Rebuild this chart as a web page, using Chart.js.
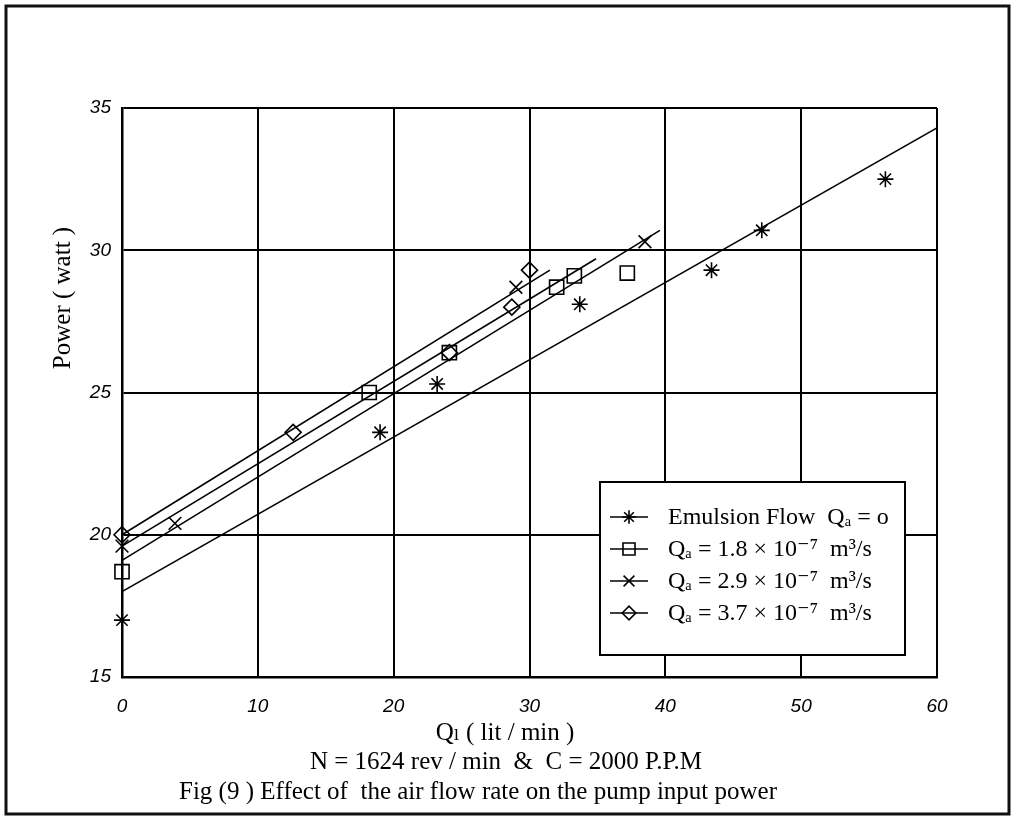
<!DOCTYPE html>
<html>
<head>
<meta charset="utf-8">
<title>Fig (9)</title>
<script src="https://cdn.jsdelivr.net/npm/chart.js@4"></script>
<style>
  html, body { margin: 0; padding: 0; background: #fff; }
  #wrap { width: 1016px; height: 820px; position: relative; }
</style>
</head>
<body>
<div id="wrap"><canvas id="powerChart" width="1016" height="820"></canvas></div>
<script>
// measured points, Q_l (lit/min) vs power (watt)
const emulsionQ = [0, 19.0, 23.2, 33.7, 43.4, 47.1, 56.2];
const emulsionP = [17.0, 23.6, 25.3, 28.1, 29.3, 30.7, 32.5];

const air18Q = [0, 18.2, 24.1, 32.0, 33.3, 37.2];
const air18P = [18.7, 25.0, 26.4, 28.7, 29.1, 29.2];

const air29Q = [0, 3.9, 29.0, 38.5];
const air29P = [19.6, 20.4, 28.7, 30.3];

const air37Q = [0, 12.6, 24.1, 28.7, 30.0];
const air37P = [20.0, 23.6, 26.4, 28.0, 29.3];

// fitted straight lines (end points)
const emulsionFitQ = [0, 60];
const emulsionFitP = [18.0, 34.3];
const air18FitQ = [0, 34.9];
const air18FitP = [19.6, 29.7];
const air29FitQ = [0, 39.6];
const air29FitP = [19.1, 30.7];
const air37FitQ = [0, 31.5];
const air37FitP = [20.0, 29.3];

const xTicks = [0, 10, 20, 30, 40, 50, 60];
const yTicks = [15, 20, 25, 30, 35];

const legendLabels = [
  "Emulsion Flow  Q\u2090 = o",
  "Q\u2090 = 1.8 \u00d7 10\u207b\u2077  m\u00b3/s",
  "Q\u2090 = 2.9 \u00d7 10\u207b\u2077  m\u00b3/s",
  "Q\u2090 = 3.7 \u00d7 10\u207b\u2077  m\u00b3/s",
];
const markerStyles = ["star", "rect", "crossRot", "rectRot"];
const markerSizes = [8, 10, 9, 8];

function pts(qs, ps) {
  return qs.map((q, i) => ({ x: q, y: ps[i] }));
}

function fitSet(qs, ps) {
  return {
    type: "line",
    data: pts(qs, ps),
    borderColor: "#000",
    borderWidth: 1.6,
    pointRadius: 0,
    fill: false,
  };
}

function markSet(label, qs, ps, k) {
  return {
    type: "scatter",
    label,
    data: pts(qs, ps),
    pointStyle: markerStyles[k],
    pointRadius: markerSizes[k],
    borderColor: "#000",
    backgroundColor: "rgba(0,0,0,0)",
    borderWidth: 1.6,
    clip: false,
  };
}

const serif = "'Liberation Serif', 'DejaVu Serif', serif";
const tickFont = { family: "'Liberation Sans', Arial, sans-serif", size: 19, style: "italic" };

/************ FRAME, CAPTIONS, LEGEND ************/
const extras = {
  id: "extras",
  afterDraw(chart) {
    const ctx = chart.ctx;
    ctx.save();

    // outer frame of the figure
    ctx.strokeStyle = "#111";
    ctx.lineWidth = 3;
    ctx.strokeRect(6, 6, 1003, 808);

    ctx.fillStyle = "#000";
    ctx.textAlign = "center";
    ctx.textBaseline = "middle";

    // y title
    ctx.save();
    ctx.translate(63, 298);
    ctx.rotate(-Math.PI / 2);
    ctx.font = "25px " + serif;
    ctx.fillText("Power ( watt )", 0, 0);
    ctx.restore();

    // x title + notes under the plot
    ctx.font = "25px " + serif;
    ctx.fillText("Q\u2097 ( lit / min )", 505, 733);
    ctx.fillText("N = 1624 rev / min  &  C = 2000 P.P.M", 506, 762);
    ctx.fillText("Fig (9 ) Effect of  the air flow rate on the pump input power", 478, 792);

    // legend box
    ctx.fillStyle = "#fff";
    ctx.fillRect(600, 482, 305, 173);
    ctx.strokeStyle = "#000";
    ctx.lineWidth = 2;
    ctx.strokeRect(600, 482, 305, 173);

    ctx.textAlign = "left";
    ctx.font = "24px " + serif;
    legendLabels.forEach((txt, i) => {
      const y = 517 + i * 32;
      ctx.strokeStyle = "#000";
      ctx.lineWidth = 1.5;
      ctx.beginPath();
      ctx.moveTo(610, y);
      ctx.lineTo(648, y);
      ctx.stroke();
      ctx.lineWidth = 1.6;
      ctx.fillStyle = "rgba(0,0,0,0)";
      Chart.helpers.drawPoint(ctx, {
        pointStyle: markerStyles[i],
        radius: markerSizes[i] * 0.85,
        rotation: 0,
        borderWidth: 1.6,
      }, 629, y);
      ctx.fillStyle = "#000";
      ctx.fillText(txt, 668, y + 1);
    });

    ctx.restore();
  },
};

new Chart(document.getElementById("powerChart"), {
  data: {
    datasets: [
      fitSet(emulsionFitQ, emulsionFitP),
      fitSet(air18FitQ, air18FitP),
      fitSet(air29FitQ, air29FitP),
      fitSet(air37FitQ, air37FitP),
      markSet(legendLabels[0], emulsionQ, emulsionP, 0),
      markSet(legendLabels[1], air18Q, air18P, 1),
      markSet(legendLabels[2], air29Q, air29P, 2),
      markSet(legendLabels[3], air37Q, air37P, 3),
    ],
  },
  options: {
    responsive: false,
    animation: false,
    layout: { padding: { left: 0, top: 108, right: 79, bottom: 0 } },
    plugins: {
      legend: { display: false },
      tooltip: { enabled: false },
    },
    scales: {
      x: {
        type: "linear",
        min: 0,
        max: 60,
        afterBuildTicks: (s) => { s.ticks = xTicks.map((v) => ({ value: v })); },
        afterFit: (s) => { s.height = 143; },
        grid: { color: "#000", lineWidth: 2, drawTicks: false },
        border: { color: "#000", width: 2.5 },
        ticks: { padding: 18, color: "#000", font: tickFont },
      },
      y: {
        type: "linear",
        min: 15,
        max: 35,
        afterBuildTicks: (s) => { s.ticks = yTicks.map((v) => ({ value: v })); },
        afterFit: (s) => { s.width = 122; },
        grid: { color: "#000", lineWidth: 2, drawTicks: false },
        border: { color: "#000", width: 2.5 },
        ticks: { padding: 11, color: "#000", font: tickFont },
      },
    },
  },
  plugins: [extras],
});
</script>
</body>
</html>
